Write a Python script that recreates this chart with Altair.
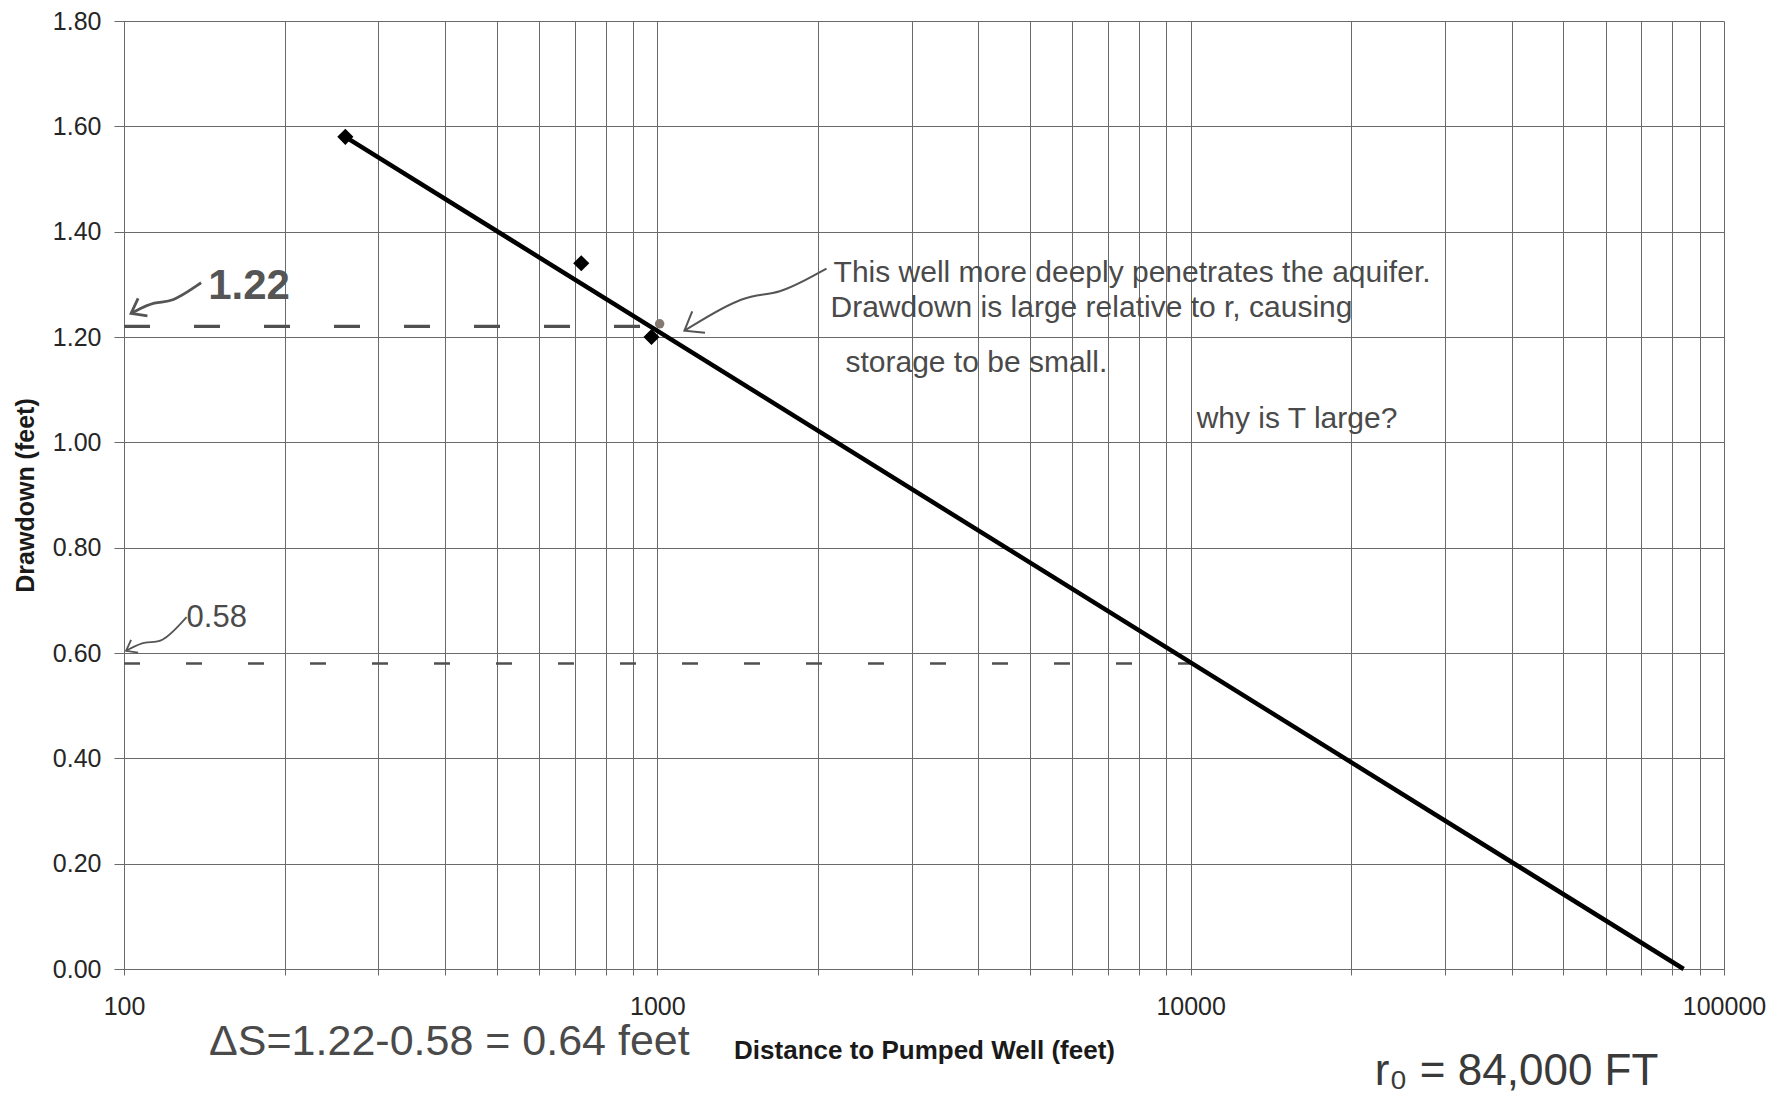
import altair as alt
import pandas as pd

# ---------------- data ----------------
# measured observation wells
well_distance = [260, 720, 975]
well_drawdown = [1.58, 1.34, 1.20]

# hand-marked point on the fitted line
mark_distance = [1010]
mark_drawdown = [1.225]

# fitted straight line (distance-drawdown)
fit_distance = [260, 84000]
fit_drawdown = [1.58, 0.0]

# dashed reading lines
read_level = [1.22, 0.58]
read_start = [100, 100]
read_end = [1000, 10000]

# axis ticks
x_grid = [100, 200, 300, 400, 500, 600, 700, 800, 900,
          1000, 2000, 3000, 4000, 5000, 6000, 7000, 8000, 9000,
          10000, 20000, 30000, 40000, 50000, 60000, 70000, 80000, 90000,
          100000]
x_labelled = [100, 1000, 10000, 100000]
y_grid = [0.0, 0.2, 0.4, 0.6, 0.8, 1.0, 1.2, 1.4, 1.6, 1.8]

# handwritten notes (text, distance, drawdown)
note_lines = ["This well more deeply penetrates the aquifer.",
              "Drawdown is large relative to r, causing",
              "storage to be small.",
              "why is T large?"]
note_x = [2140, 2112, 2253, 10263]
note_y = [1.322, 1.256, 1.150, 1.045]

label_122 = "1.22"
label_122_pos = (143.8, 1.296)
label_058 = "0.58"
label_058_pos = (131.0, 0.666)
delta_text = "ΔS=1.22-0.58 = 0.64 feet"
delta_pos = (144.4, -0.139)
r0_text = "r₀ = 84,000 FT"
r0_pos = (22135, -0.196)

# hand-drawn arrows (polyline points, tip first)
arrow_122_x = [103.1, 114.8, 122.5, 139.5]
arrow_122_y = [1.245, 1.269, 1.264, 1.303]
arrow_058_x = [100.9, 110.0, 117.3, 131.0]
arrow_058_y = [0.604, 0.625, 0.615, 0.668]
arrow_main_x = [1124, 1469, 1672, 2076]
arrow_main_y = [1.212, 1.284, 1.277, 1.330]

# ---------------- scales ----------------
GRID = "#6a6a6a"
INK = "#4a4a4a"
xscale = alt.Scale(type="log", domain=[100, 100000], nice=False)
yscale = alt.Scale(domain=[0, 1.8], nice=False, zero=False)

label_expr = "indexof([" + ",".join(str(v) for v in x_labelled) + "], datum.value) >= 0 ? format(datum.value, 'd') : ''"

x_axis = alt.Axis(values=x_grid, labelExpr=label_expr, title="Distance to Pumped Well (feet)",
                  grid=True, gridColor=GRID, gridWidth=1, gridOpacity=1,
                  domainColor=GRID, tickColor=GRID, tickSize=6, labelPadding=19,
                  labelFontSize=25, labelColor="#262626", labelFont="Liberation Sans",
                  labelFlush=False, labelOverlap=False,
                  titleFontSize=26, titleFont="Liberation Sans", titleFontWeight="bold",
                  titleColor="#1a1a1a", titlePadding=18)
y_axis = alt.Axis(values=y_grid, format=".2f", title="Drawdown (feet)",
                  grid=True, gridColor=GRID, gridWidth=1, gridOpacity=1,
                  domainColor=GRID, tickColor=GRID, tickSize=10, labelPadding=13,
                  labelFontSize=25, labelColor="#262626", labelFont="Liberation Sans",
                  labelFlush=False,
                  titleFontSize=25, titleFont="Liberation Sans", titleFontWeight="bold",
                  titleColor="#1a1a1a", titlePadding=14)

# ---------------- layers ----------------
fit_df = pd.DataFrame({"r": fit_distance, "s": fit_drawdown})
base = alt.Chart(fit_df).mark_line(color="black", strokeWidth=4.5).encode(
    x=alt.X("r:Q", scale=xscale, axis=x_axis),
    y=alt.Y("s:Q", scale=yscale, axis=y_axis),
)

layers = []
dashes = [[26, 44], [16, 46]]
widths = [3.2, 2.6]
for lvl, a, b, d, w in zip(read_level, read_start, read_end, dashes, widths):
    df = pd.DataFrame({"r": [a], "r2": [b], "s": [lvl]})
    layers.append(alt.Chart(df).mark_rule(color="#505050", strokeWidth=w, strokeDash=d).encode(
        x=alt.X("r:Q", scale=xscale), x2="r2:Q", y=alt.Y("s:Q", scale=yscale)))

layers.append(base)

wells_df = pd.DataFrame({"r": well_distance, "s": well_drawdown})
layers.append(alt.Chart(wells_df).mark_point(shape="diamond", filled=True, color="black",
                                              size=260, opacity=1).encode(
    x=alt.X("r:Q", scale=xscale), y=alt.Y("s:Q", scale=yscale)))

mark_df = pd.DataFrame({"r": mark_distance, "s": mark_drawdown})
layers.append(alt.Chart(mark_df).mark_circle(color="#857a72", size=90, opacity=1).encode(
    x=alt.X("r:Q", scale=xscale), y=alt.Y("s:Q", scale=yscale)))

# arrows
chevron = "M -1 -0.75 L 0 0 L -1 0.75"
arrows = [(arrow_122_x, arrow_122_y, 152, 700, 2.8, "#555555"),
          (arrow_058_x, arrow_058_y, 151, 380, 1.8, "#555555"),
          (arrow_main_x, arrow_main_y, 149, 1100, 2.0, "#555555")]
for ax, ay, ang, sz, sw, col in arrows:
    df = pd.DataFrame({"r": ax, "s": ay, "o": list(range(len(ax)))})
    layers.append(alt.Chart(df).mark_line(color=col, strokeWidth=sw, interpolate="basis").encode(
        x=alt.X("r:Q", scale=xscale), y=alt.Y("s:Q", scale=yscale), order="o:Q"))
    tip = pd.DataFrame({"r": [ax[0]], "s": [ay[0]]})
    layers.append(alt.Chart(tip).mark_point(shape=chevron, filled=False, color=col, strokeWidth=sw,
                                             size=sz, angle=ang, opacity=1).encode(
        x=alt.X("r:Q", scale=xscale), y=alt.Y("s:Q", scale=yscale)))


def text_layer(texts, xs, ys, size, color, weight="normal", font="Liberation Sans"):
    df = pd.DataFrame({"t": texts, "r": xs, "s": ys})
    return alt.Chart(df).mark_text(align="left", baseline="middle", fontSize=size, color=color,
                                   fontWeight=weight, font=font).encode(
        x=alt.X("r:Q", scale=xscale), y=alt.Y("s:Q", scale=yscale), text="t:N")


layers.append(text_layer(note_lines, note_x, note_y, 30, INK))
layers.append(text_layer([label_122], [label_122_pos[0]], [label_122_pos[1]], 42, "#555555", "bold"))
layers.append(text_layer([label_058], [label_058_pos[0]], [label_058_pos[1]], 31, INK))
layers.append(text_layer([delta_text], [delta_pos[0]], [delta_pos[1]], 43, INK))
layers.append(text_layer([r0_text], [r0_pos[0]], [r0_pos[1]], 44, "#3a3a3a"))

chart = alt.layer(*layers).properties(
    width=1600, height=948,
    padding={"left": 5, "top": 1, "right": 5, "bottom": 0},
    background="white",
).configure_view(strokeWidth=0)

chart.save("out.html", embed_options={"renderer": "svg", "actions": False})
